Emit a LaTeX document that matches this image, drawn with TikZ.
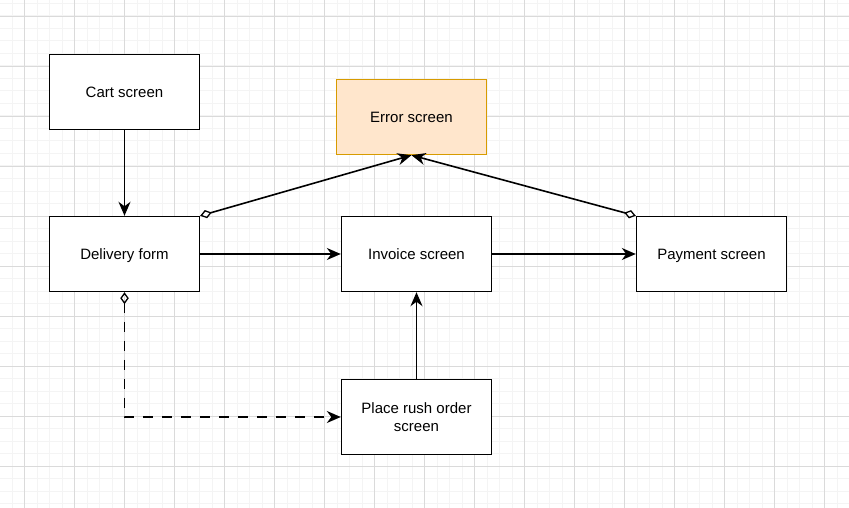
\documentclass[tikz,border=0pt]{standalone}
\usepackage{fontspec}
\setmainfont{Liberation Sans}
\usetikzlibrary{arrows.meta}
\definecolor{minorgrid}{RGB}{244,244,244}
\definecolor{majorgrid}{RGB}{218,218,218}
\definecolor{errfill}{HTML}{FFE6CC}
\definecolor{errdraw}{HTML}{D79B00}
\tikzset{
  box/.style={draw=black, line width=1.4pt, minimum width=150pt, minimum height=75pt,
    inner sep=0pt, align=center, fill=white, font=\fontsize{15}{18}\selectfont},
  onebox/.style={box, text height=10.8pt, text depth=0pt},
  errbox/.style={onebox, draw=errdraw, fill=errfill},
  arr/.style={-{Stealth[length=14pt,width=12pt,inset=4.5pt]}, line width=1.6pt},
  dia/.style={{Diamond[open,length=12pt,width=8.5pt,line width=1.3pt]}-{Stealth[length=14pt,width=12pt,inset=4.5pt]}, line width=1.6pt},
  minorline/.style={draw=minorgrid, line width=1pt},
  majorline/.style={draw=majorgrid, line width=1pt}
}
\begin{document}
\begin{tikzpicture}[x=1pt,y=-1pt]
\useasboundingbox (0,0) rectangle (849,508);
\fill[white] (0,0) rectangle (849,508);
% grid
\foreach \i in {0,...,68} {\draw[minorline] ({-0.5+12.5*\i},0) -- ({-0.5+12.5*\i},508);}
\foreach \j in {0,...,40} {\draw[minorline] (0,{3.5+12.5*\j}) -- (849,{3.5+12.5*\j});}
\foreach \i in {0,...,16} {\draw[majorline] ({24.5+50*\i},0) -- ({24.5+50*\i},508);}
\foreach \j in {0,...,9} {\draw[majorline] (0,{16.5+50*\j}) -- (849,{16.5+50*\j});}
% nodes
\node[onebox] (cart) at (124.5,92) {Cart screen};
\node[errbox] (err) at (411.5,117) {Error screen};
\node[onebox] (del) at (124.5,254) {Delivery form};
\node[onebox] (inv) at (416.5,254) {Invoice screen};
\node[onebox] (pay) at (711.5,254) {Payment screen};
\node[box] (rush) at (416.5,417) {Place rush order\\screen};
% edges
\draw[arr] (cart.south) -- (del.north);
\draw[arr] (del.east) -- (inv.west);
\draw[arr] (inv.east) -- (pay.west);
\draw[arr] (rush.north) -- (inv.south);
\draw[dia] (del.north east) -- (err.south);
\draw[dia] (pay.north west) -- (err.south);
\draw[dia, dash pattern=on 10pt off 9pt] (del.south) |- (rush.west);
\end{tikzpicture}
\end{document}
